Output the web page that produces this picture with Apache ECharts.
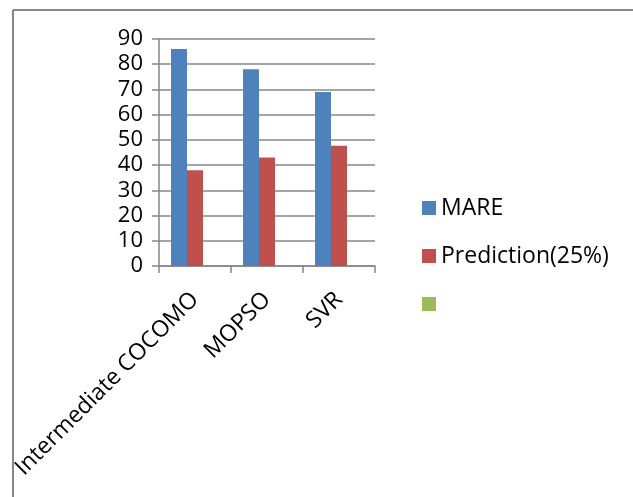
<!DOCTYPE html>
<html>
<head>
<meta charset="utf-8">
<script src="https://cdn.jsdelivr.net/npm/echarts@6/dist/echarts.min.js"></script>
<style>
  html, body { margin: 0; padding: 0; background: #fff; }
  #chart { width: 633px; height: 497px; }
</style>
</head>
<body>
<div id="chart"></div>
<script>
// Methods compared
const categories = ['Intermediate COCOMO', 'MOPSO', 'SVR'];
// Series values
const mare = [86, 78, 69];
const prediction25 = [38, 43, 47.7];
const emptySeries = [null, null, null];
const seriesNames = ['MARE', 'Prediction(25%)', 'Series 3'];
// Value axis range
const yMin = 0, yMax = 90, yStep = 10;

const FONT = '"Open Sans", sans-serif';
const GRAY = '#878787';

const chart = echarts.init(document.getElementById('chart'), null, { renderer: 'canvas' });

chart.setOption({
  animation: false,
  backgroundColor: '#fff',
  textStyle: { fontFamily: FONT },
  grid: { left: 159, right: 258, top: 39, bottom: 231, containLabel: false },
  graphic: [
    { type: 'line', shape: { x1: 13, y1: 10, x2: 633, y2: 10 }, style: { stroke: GRAY, lineWidth: 2 } },
    { type: 'line', shape: { x1: 13, y1: 10, x2: 13, y2: 497 }, style: { stroke: GRAY, lineWidth: 2 } }
  ],
  legend: {
    orient: 'vertical',
    left: 417,
    top: 191,
    icon: 'rect',
    itemWidth: 14,
    itemHeight: 14,
    itemGap: 24,
    data: seriesNames,
    // the third series has no caption; keep a blank so its row keeps full height
    formatter: function (name) { return name === seriesNames[2] ? ' ' : name; },
    textStyle: { fontFamily: FONT, fontSize: 23, color: '#000', lineHeight: 24, padding: [0, 0, 0, 0] }
  },
  xAxis: {
    type: 'category',
    data: categories,
    axisLine: { show: true, lineStyle: { color: GRAY, width: 1.5 } },
    axisTick: { show: true, alignWithLabel: false, length: 7, lineStyle: { color: GRAY, width: 1.5 } },
    axisLabel: { rotate: 45, fontSize: 23, color: '#000', fontFamily: FONT, margin: 30, interval: 0 },
    splitLine: { show: false }
  },
  yAxis: {
    type: 'value',
    min: yMin,
    max: yMax,
    interval: yStep,
    axisLine: { show: true, lineStyle: { color: GRAY, width: 1.5 } },
    axisTick: { show: true, length: 7, lineStyle: { color: GRAY, width: 1.5 } },
    axisLabel: { fontSize: 22, color: '#000', fontFamily: FONT, margin: 16 },
    splitLine: { show: true, lineStyle: { color: GRAY, width: 1.5 } }
  },
  series: [
    { name: seriesNames[0], type: 'bar', data: mare, barWidth: 16, barGap: '0%', itemStyle: { color: '#4F81BD' } },
    { name: seriesNames[1], type: 'bar', data: prediction25, barWidth: 16, barGap: '0%', itemStyle: { color: '#C0504D' } },
    { name: seriesNames[2], type: 'bar', data: emptySeries, barWidth: 16, barGap: '0%', itemStyle: { color: '#9BBB59' } }
  ]
});
</script>
</body>
</html>
